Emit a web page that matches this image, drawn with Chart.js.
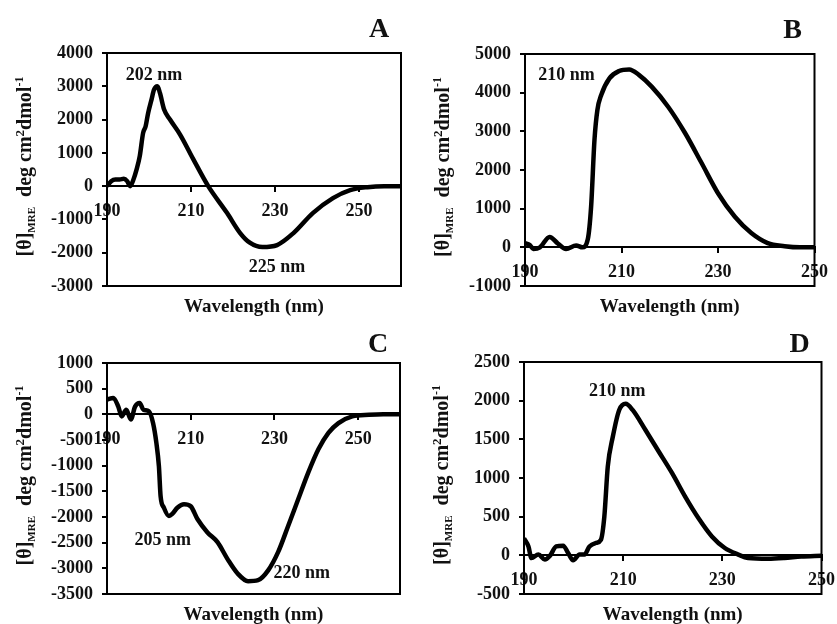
<!DOCTYPE html>
<html lang="en">
<head>
<meta charset="UTF-8">
<title>CD spectra A-D</title>
<script src="https://cdn.jsdelivr.net/npm/chart.js"></script>
<style>
  html, body { margin: 0; padding: 0; background: #fff; }
  #wrap { position: relative; width: 837px; height: 624px; overflow: hidden; background: #fff; }
  .panel { position: absolute; }
</style>
</head>
<body>
<div id="wrap"></div>

<script>
// ---- data ----
// panel A
const wlA = [190, 191, 192, 193, 194, 194.8, 195.5, 196.3, 197, 197.8, 198.6, 199.2, 199.8, 200.6, 201.2, 202, 202.6, 203.6, 205, 207.4, 210.5, 214.1, 218.6, 221.7, 224, 227, 230.5, 234.4, 239, 243.8, 247.9, 252, 256, 260];
const cdA = [0, 150, 200, 200, 220, 150, 0, 200, 480, 900, 1600, 1800, 2200, 2600, 2900, 3000, 2800, 2300, 2000, 1550, 820, 0, -810, -1410, -1700, -1830, -1770, -1410, -810, -360, -120, -30, 0, 0];
// panel B
const wlB = [190, 191, 191.7, 193.1, 195.1, 196.8, 198.5, 200.6, 201.9, 203, 203.7, 204.4, 205, 205.8, 207.5, 209.5, 211.6, 213.6, 216.3, 219.7, 223.2, 226.6, 230, 233.5, 236.9, 240.3, 243.8, 247, 250];
const cdB = [110, 60, -40, 0, 270, 100, -40, 50, 0, 200, 1050, 2780, 3550, 3940, 4370, 4560, 4600, 4460, 4150, 3630, 2950, 2180, 1400, 790, 370, 110, 30, 0, 0];
// panel C
const wlC = [190, 191.5, 192.7, 193.5, 194.6, 195.7, 196.7, 197.8, 198.7, 200, 201, 201.8, 202.4, 202.8, 203.6, 204.8, 205.6, 206.8, 208.4, 210, 211.6, 214, 216.4, 218.8, 221.2, 223.7, 226.1, 228.5, 230.9, 233.3, 235.7, 238.1, 240.5, 242.9, 245.3, 248.6, 252.6, 256, 260];
const cdC = [290, 320, 150, -40, 90, -100, 150, 220, 90, 60, -170, -560, -1010, -1590, -1820, -1980, -1940, -1820, -1750, -1790, -2040, -2300, -2490, -2820, -3100, -3250, -3230, -3040, -2680, -2170, -1650, -1130, -680, -360, -170, -40, -10, 0, 0];
// panel D
const wlD = [190, 190.9, 191.5, 192.9, 194.2, 195.2, 196.5, 197.9, 198.9, 199.9, 201.2, 202.2, 203.2, 204.5, 205.5, 206.2, 206.9, 207.9, 209.2, 210.5, 211.9, 214.5, 217.2, 219.9, 222.5, 225.2, 227.9, 230.5, 233.2, 235.2, 239.2, 242.5, 245.9, 250];
const cdD = [220, 115, -35, 10, -55, -10, 115, 125, 30, -65, 10, 10, 115, 160, 200, 500, 1150, 1530, 1880, 1960, 1880, 1620, 1340, 1060, 760, 480, 245, 95, 10, -35, -45, -35, -15, -5];

// axis ticks
const xTicks = [190, 210, 230, 250];
const yTicksA = [-3000, -2000, -1000, 0, 1000, 2000, 3000, 4000];
const yTicksB = [-1000, 0, 1000, 2000, 3000, 4000, 5000];
const yTicksC = [-3500, -3000, -2500, -2000, -1500, -1000, -500, 0, 500, 1000];
const yTicksD = [-500, 0, 500, 1000, 1500, 2000, 2500];

// peak labels
const notesA = [{ text: '202 nm', x: 201.2, y: 3330 }, { text: '225 nm', x: 230.5, y: -2430 }];
const notesB = [{ text: '210 nm', x: 198.6, y: 4460 }];
const notesC = [{ text: '205 nm', x: 203.3, y: -2450 }, { text: '220 nm', x: 236.5, y: -3090 }];
const notesD = [{ text: '210 nm', x: 208.8, y: 2120 }];

const SERIF = '"Liberation Serif", "Times New Roman", serif';

// frame, letter, titles and peak labels
const panelDecor = {
    id: 'panelDecor',
    afterDraw(chart, args, opts) {
        const ctx = chart.ctx;
        const a = chart.chartArea;
        const sx = chart.scales.x, sy = chart.scales.y;
        ctx.save();
        ctx.strokeStyle = '#000';
        ctx.lineWidth = 2;
        ctx.strokeRect(a.left, a.top, a.right - a.left, a.bottom - a.top);

        ctx.fillStyle = '#111';
        ctx.textAlign = 'center';
        ctx.textBaseline = 'alphabetic';
        ctx.font = 'bold 28px ' + SERIF;
        ctx.fillText(opts.letter, a.right - 22, a.top - opts.letterGap);

        ctx.font = 'bold 19px ' + SERIF;
        ctx.fillText('Wavelength (nm)', (a.left + a.right) / 2, a.bottom + 26);

        ctx.textBaseline = 'middle';
        ctx.font = 'bold 18px ' + SERIF;
        opts.notes.forEach(n => {
            ctx.fillText(n.text, sx.getPixelForValue(n.x), sy.getPixelForValue(n.y));
        });

        // y title with sub/superscripts
        const parts = [
            { t: '[θ]', s: 20, dy: 0 },
            { t: 'MRE', s: 11, dy: 4 },
            { t: '  deg cm', s: 20, dy: 0 },
            { t: '2', s: 13, dy: -7 },
            { t: 'dmol', s: 20, dy: 0 },
            { t: '-1', s: 12, dy: -8 }
        ];
        let total = 0;
        parts.forEach(p => {
            ctx.font = 'bold ' + p.s + 'px ' + SERIF;
            p.w = ctx.measureText(p.t).width;
            total += p.w;
        });
        ctx.translate(a.left - 82, (a.top + a.bottom) / 2 - 3);
        ctx.rotate(-Math.PI / 2);
        ctx.textAlign = 'left';
        ctx.textBaseline = 'alphabetic';
        let cx = -total / 2;
        parts.forEach(p => {
            ctx.font = 'bold ' + p.s + 'px ' + SERIF;
            ctx.fillText(p.t, cx, 6 + p.dy);
            cx += p.w;
        });
        ctx.restore();
    }
};

function buildPanel(cfg) {
    const wrap = document.getElementById('wrap');
    const div = document.createElement('div');
    div.className = 'panel';
    const w = cfg.area.w + 120, h = cfg.area.h + 90;
    div.style.left = (cfg.area.left - 100) + 'px';
    div.style.top = (cfg.area.top - 60) + 'px';
    div.style.width = w + 'px';
    div.style.height = h + 'px';
    const canvas = document.createElement('canvas');
    canvas.width = w;
    canvas.height = h;
    div.appendChild(canvas);
    wrap.appendChild(div);

    new Chart(canvas.getContext('2d'), {
        type: 'line',
        data: {
            datasets: [{
                data: cfg.wl.map((v, i) => ({ x: v, y: cfg.cd[i] })),
                borderColor: '#000',
                borderWidth: 4.5,
                pointRadius: 0,
                cubicInterpolationMode: 'monotone',
                fill: false
            }]
        },
        options: {
            responsive: false,
            animation: false,
            layout: { padding: { left: 40, top: 60, right: 20, bottom: 30 } },
            plugins: {
                legend: { display: false },
                tooltip: { enabled: false },
                panelDecor: { letter: cfg.letter, letterGap: cfg.letterGap, notes: cfg.notes }
            },
            scales: {
                x: {
                    type: 'linear',
                    position: { y: 0 },
                    min: cfg.xMin,
                    max: cfg.xMax,
                    afterBuildTicks: s => { s.ticks = xTicks.map(v => ({ value: v })); },
                    afterFit: s => { s.height = 0; },
                    border: { display: true, color: '#000', width: 2 },
                    grid: { drawOnChartArea: false, drawTicks: true, tickLength: 5, color: '#000', lineWidth: 2 },
                    ticks: {
                        color: '#111',
                        padding: 9,
                        maxRotation: 0,
                        autoSkip: false,
                        font: { family: SERIF, size: 18, weight: 'bold' },
                        callback: v => String(v)
                    }
                },
                y: {
                    type: 'linear',
                    position: 'left',
                    min: cfg.yTicks[0],
                    max: cfg.yTicks[cfg.yTicks.length - 1],
                    afterBuildTicks: s => { s.ticks = cfg.yTicks.map(v => ({ value: v })); },
                    afterFit: s => { s.width = 60; },
                    border: { display: true, color: '#000', width: 2 },
                    grid: { drawOnChartArea: false, drawTicks: true, tickLength: 5, color: '#000', lineWidth: 2 },
                    ticks: {
                        color: '#111',
                        padding: 9,
                        font: { family: SERIF, size: 18, weight: 'bold' },
                        callback: v => String(v)
                    }
                }
            }
        },
        plugins: [panelDecor]
    });
}

buildPanel({ letter: 'A', letterGap: 16, area: { left: 107, top: 53, w: 294, h: 233 }, wl: wlA, cd: cdA, xMin: 190, xMax: 260, yTicks: yTicksA, notes: notesA });
buildPanel({ letter: 'B', letterGap: 16, area: { left: 525, top: 54, w: 292, h: 232 }, wl: wlB, cd: cdB, xMin: 190, xMax: 250, yTicks: yTicksB, notes: notesB });
buildPanel({ letter: 'C', letterGap: 11, area: { left: 107, top: 363, w: 293, h: 231 }, wl: wlC, cd: cdC, xMin: 190, xMax: 260, yTicks: yTicksC, notes: notesC });
buildPanel({ letter: 'D', letterGap: 10, area: { left: 524, top: 362, w: 300, h: 232 }, wl: wlD, cd: cdD, xMin: 190, xMax: 250, yTicks: yTicksD, notes: notesD });
</script>
</body>
</html>
